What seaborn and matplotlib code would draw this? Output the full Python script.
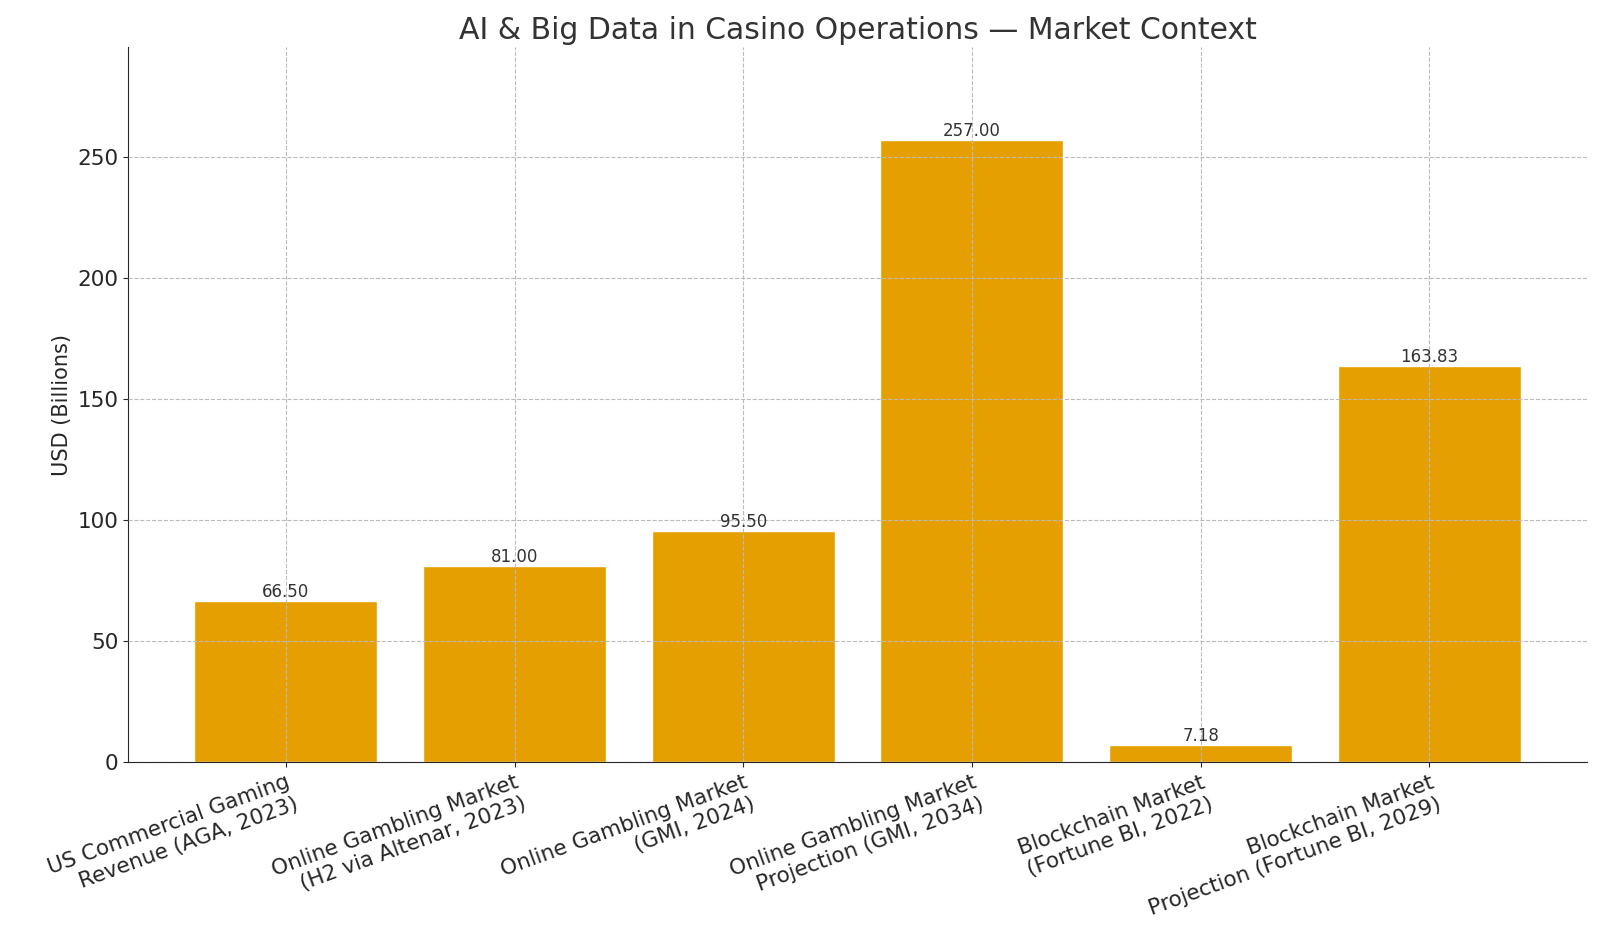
import matplotlib
matplotlib.use("Agg")
import matplotlib.pyplot as plt
import seaborn as sns
import pandas as pd

categories = ["US Commercial Gaming\nRevenue (AGA, 2023)",
              "Online Gambling Market\n(H2 via Altenar, 2023)",
              "Online Gambling Market\n(GMI, 2024)",
              "Online Gambling Market\nProjection (GMI, 2034)",
              "Blockchain Market\n(Fortune BI, 2022)",
              "Blockchain Market\nProjection (Fortune BI, 2029)"]
values = [66.50, 81.00, 95.50, 257.00, 7.18, 163.83]

sns.set_style("ticks")
plt.rcParams['font.family'] = ['DejaVu Sans']
fig, ax = plt.subplots(figsize=(16, 9.4), dpi=100)
fig.subplots_adjust(left=0.08, right=0.992, top=0.95, bottom=0.189)
df = pd.DataFrame({"cat": categories, "val": values})
sns.barplot(data=df, x="cat", y="val", color="#E69F00", saturation=1, width=0.8, ax=ax)
ax.set_xlim(-0.69, 5.69)
ax.set_ylim(0, 295.5)
for i, v in enumerate(values):
    ax.text(i, v, f"{v:.2f}", ha="center", va="bottom", fontsize=12, color="#333333")
ax.grid(True, linestyle="--", color="#bbbbbb", linewidth=0.8)
ax.set_axisbelow(False)
for b in ax.patches:
    b.set_zorder(1)
ax.set_title("AI & Big Data in Casino Operations — Market Context", fontsize=21.5, color="#333333")
ax.set_ylabel("USD (Billions)", fontsize=15)
ax.set_xlabel("")
ax.tick_params(axis="both", labelsize=15.5)
plt.setp(ax.get_xticklabels(), rotation=20, ha="right", rotation_mode="anchor")
sns.despine(ax=ax)
fig.savefig("out.png")
